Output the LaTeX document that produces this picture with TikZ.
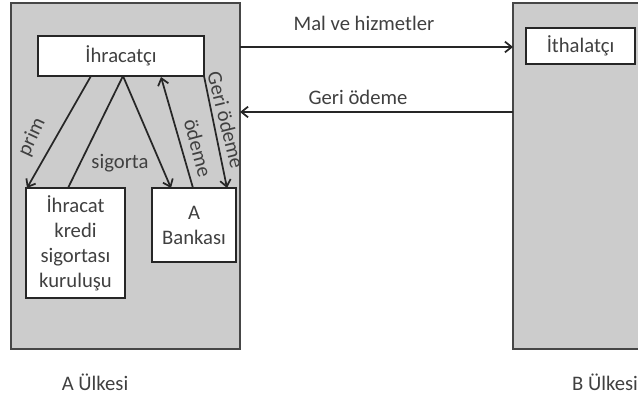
\documentclass[tikz,border=0pt]{standalone}
\usepackage{fontspec}
\setmainfont{Carlito}
\usetikzlibrary{arrows.meta}
\definecolor{countryfill}{RGB}{204,204,204}
\definecolor{countryline}{RGB}{70,70,70}
\tikzset{
  country/.style={draw=countryline, fill=countryfill, line width=1.2pt},
  actor/.style={draw=black!85, fill=white, line width=1.2pt, align=center,
    inner sep=0pt, text=black!75, font=\fontsize{15.5}{18.8}\selectfont},
  flow/.style={draw=black!85, line width=1.3pt, -{Straight Barb[length=5pt,width=8pt,line width=1.3pt]}},
  plainflow/.style={draw=black!85, line width=1.3pt},
  lbl/.style={font=\fontsize{15.5}{18.8}\selectfont, text=black!75, inner sep=1pt},
}
\begin{document}
\begin{tikzpicture}[x=0.75pt, y=-0.75pt]
  \useasboundingbox (0,0) rectangle (638,402);
  \clip (0,0) rectangle (638,402);

  % the two countries
  \draw[country] (11,3) rectangle (240,349);
  \draw[country] (513,3) rectangle (660,349);

  % parties
  \node[actor, minimum width=166*0.75pt, minimum height=40*0.75pt] (exp) at (121,56) {İhracatçı};
  \node[actor, minimum width=109*0.75pt, minimum height=36*0.75pt] (imp) at (580.5,46) {İthalatçı};
  \node[actor, minimum width=99*0.75pt, minimum height=110*0.75pt] (ins) at (75.5,243) {İhracat\\kredi\\sigortası\\kuruluşu};
  \node[actor, minimum width=84*0.75pt, minimum height=74*0.75pt] (bank) at (194,225) {A\\Bankası};

  % anchor points on the box edges
  \coordinate (expL) at (91,76);
  \coordinate (expM) at (123,76);
  \coordinate (expR) at (161,77);
  \coordinate (expRR) at (204,76);
  \coordinate (insL) at (27,188);
  \coordinate (insM) at (68,188);
  \coordinate (bankL) at (171,188);
  \coordinate (bankM) at (193,188);
  \coordinate (bankR) at (227,188);
  \coordinate (aE1) at (240,47);
  \coordinate (bW1) at (513,47);
  \coordinate (aE2) at (240,112);
  \coordinate (bW2) at (513,112);

  % flows inside country A
  \draw[flow] (expL) -- (insL);
  \draw[plainflow] (insM) -- (expM);
  \draw[flow] (expM) -- (bankL);
  \draw[flow] (bankM) -- (expR);
  \draw[flow] (expRR) -- (bankR);

  % flows between the countries
  \draw[flow] (aE1) -- (bW1);
  \draw[flow] (bW2) -- (aE2);

  % flow labels
  \node[lbl, rotate=65] (lprim) at (32,137) {prim};
  \node[lbl] (lsig) at (120,163) {sigorta};
  \node[lbl, rotate=-75] (lode) at (198,148) {ödeme};
  \node[lbl, rotate=-76] (lgeri) at (226,120) {Geri ödeme};
  \node[lbl] (lmal) at (364,23) {Mal ve hizmetler};
  \node[lbl] (lgo) at (358,97) {Geri ödeme};

  % country names
  \node[lbl] (ca) at (95,382) {A Ülkesi};
  \node[lbl] (cb) at (605,382) {B Ülkesi};
\end{tikzpicture}
\end{document}
